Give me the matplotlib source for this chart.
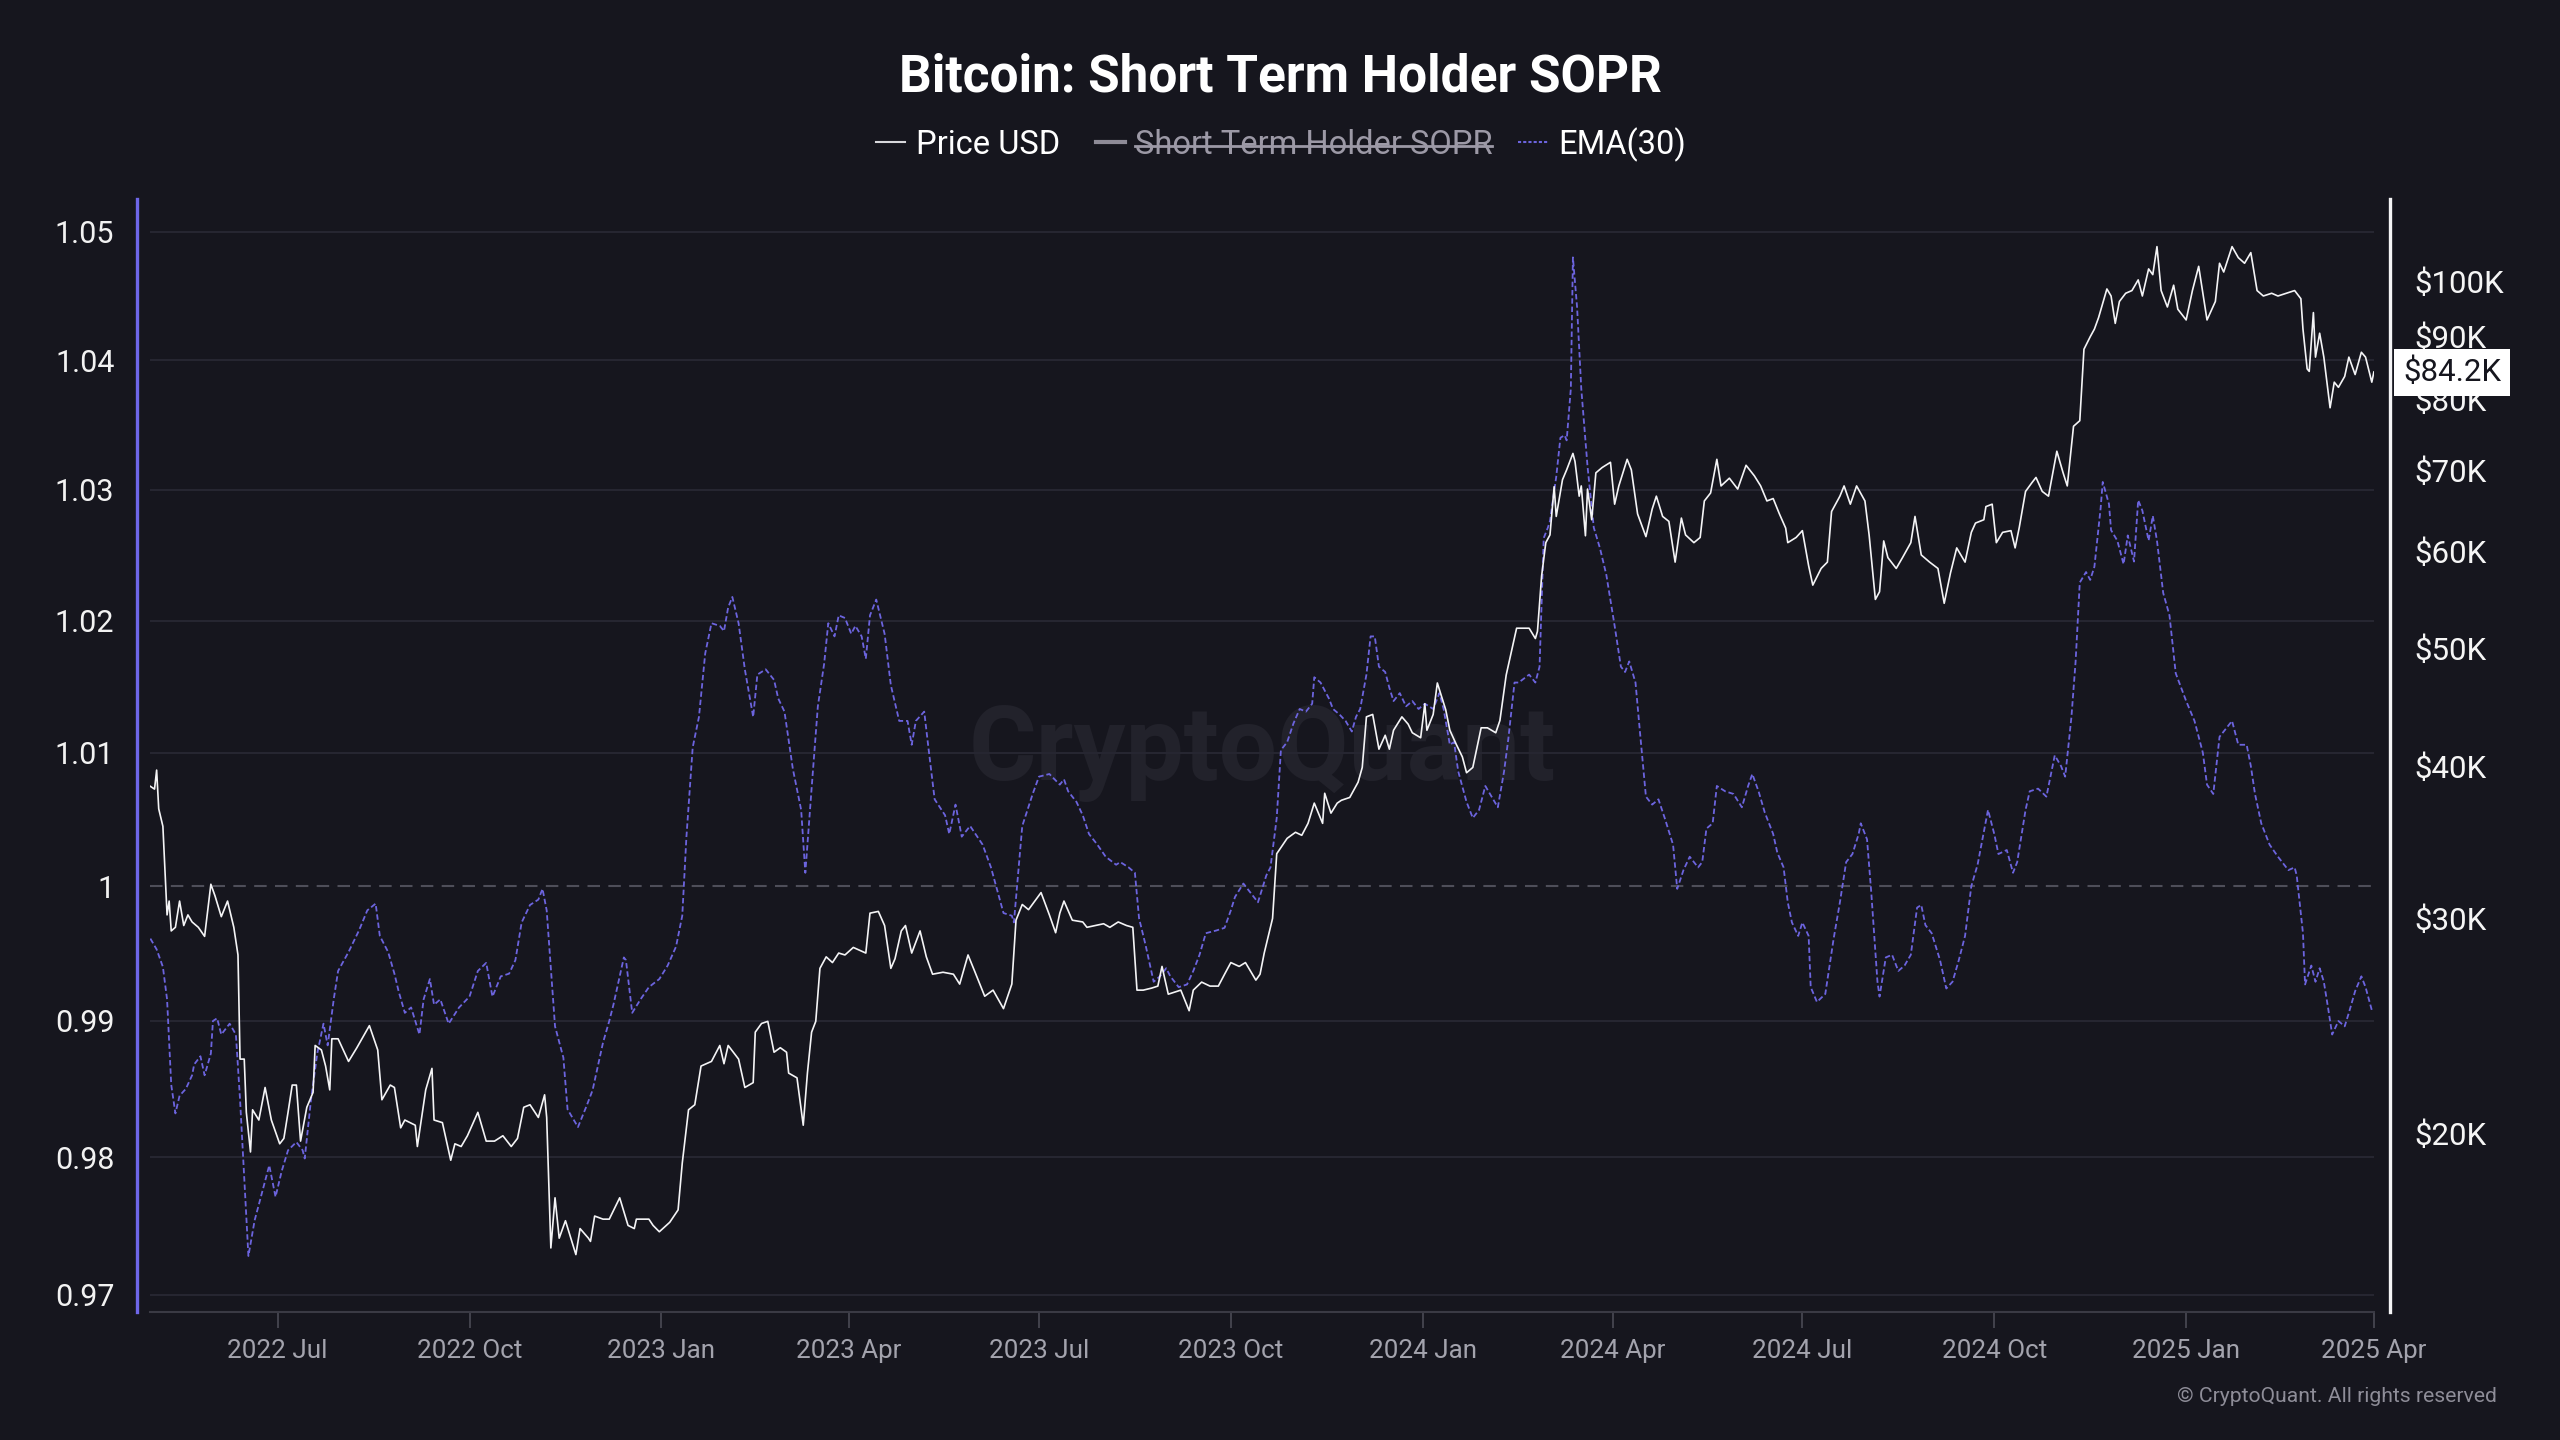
"""
Bitcoin: Short Term Holder SOPR (EMA 30) against BTC price, CryptoQuant style.
Values read off the reference chart.
"""

import pandas as pd
import matplotlib
matplotlib.use("Agg")
import matplotlib.pyplot as plt
import matplotlib.dates as mdates
from matplotlib.lines import Line2D
from matplotlib.ticker import FixedLocator, FuncFormatter, NullLocator, NullFormatter
from matplotlib import transforms

plt.rcParams["font.family"] = ["Roboto", "DejaVu Sans"]

# ─── Data ────────────────────────────────────────────────────────────────────
EMA_DATES = [
    "2022-05-01", "2022-05-04", "2022-05-07", "2022-05-09", "2022-05-11", "2022-05-13", "2022-05-15",
    "2022-05-18", "2022-05-21", "2022-05-22", "2022-05-25", "2022-05-27", "2022-05-30", "2022-05-31",
    "2022-06-02", "2022-06-04", "2022-06-08", "2022-06-11", "2022-06-13", "2022-06-17", "2022-06-20",
    "2022-06-24", "2022-06-27", "2022-06-30", "2022-07-03", "2022-07-06", "2022-07-10", "2022-07-13",
    "2022-07-14", "2022-07-17", "2022-07-20", "2022-07-23", "2022-07-25", "2022-07-28", "2022-07-30",
    "2022-08-04", "2022-08-09", "2022-08-13", "2022-08-17", "2022-08-19", "2022-08-23", "2022-08-26",
    "2022-08-28", "2022-08-31", "2022-09-03", "2022-09-07", "2022-09-09", "2022-09-12", "2022-09-14",
    "2022-09-17", "2022-09-21", "2022-09-26", "2022-10-01", "2022-10-05", "2022-10-09", "2022-10-12",
    "2022-10-16", "2022-10-20", "2022-10-23", "2022-10-26", "2022-10-30", "2022-11-03", "2022-11-05",
    "2022-11-07", "2022-11-11", "2022-11-15", "2022-11-17", "2022-11-22", "2022-11-26", "2022-11-29",
    "2022-12-04", "2022-12-07", "2022-12-09", "2022-12-14", "2022-12-15", "2022-12-18", "2022-12-22",
    "2022-12-26", "2022-12-31",
    "2023-01-04", "2023-01-08", "2023-01-11", "2023-01-13", "2023-01-16", "2023-01-19", "2023-01-22",
    "2023-01-25", "2023-01-29", "2023-01-31", "2023-02-02", "2023-02-04", "2023-02-07", "2023-02-10",
    "2023-02-14", "2023-02-16", "2023-02-20", "2023-02-24", "2023-02-26", "2023-03-01", "2023-03-05",
    "2023-03-09", "2023-03-11", "2023-03-14", "2023-03-17", "2023-03-20", "2023-03-22", "2023-03-25",
    "2023-03-27", "2023-03-30", "2023-04-02", "2023-04-04", "2023-04-07", "2023-04-09", "2023-04-11",
    "2023-04-14", "2023-04-18", "2023-04-21", "2023-04-25", "2023-04-29", "2023-05-01", "2023-05-03",
    "2023-05-07", "2023-05-09", "2023-05-12", "2023-05-17", "2023-05-19", "2023-05-22", "2023-05-25",
    "2023-05-29", "2023-06-04", "2023-06-08", "2023-06-14", "2023-06-18", "2023-06-19", "2023-06-23",
    "2023-06-28", "2023-07-01", "2023-07-06", "2023-07-11", "2023-07-13", "2023-07-15", "2023-07-19",
    "2023-07-22", "2023-07-25", "2023-07-29", "2023-08-02", "2023-08-07", "2023-08-09", "2023-08-13",
    "2023-08-16", "2023-08-18", "2023-08-21", "2023-08-25", "2023-08-28", "2023-08-31", "2023-09-02",
    "2023-09-06", "2023-09-10", "2023-09-13", "2023-09-16", "2023-09-19", "2023-09-24", "2023-09-28",
    "2023-10-01", "2023-10-03", "2023-10-07", "2023-10-10", "2023-10-14", "2023-10-16", "2023-10-18",
    "2023-10-20", "2023-10-23", "2023-10-25", "2023-10-28", "2023-10-31", "2023-11-03", "2023-11-06",
    "2023-11-09", "2023-11-10", "2023-11-13", "2023-11-17", "2023-11-19", "2023-11-22", "2023-11-25",
    "2023-11-28", "2023-11-30", "2023-12-02", "2023-12-05", "2023-12-07", "2023-12-09", "2023-12-11",
    "2023-12-14", "2023-12-16", "2023-12-18", "2023-12-21", "2023-12-24", "2023-12-27", "2023-12-30",
    "2024-01-02", "2024-01-06", "2024-01-09", "2024-01-11", "2024-01-14", "2024-01-16", "2024-01-18",
    "2024-01-22", "2024-01-25", "2024-01-28", "2024-01-31", "2024-02-03", "2024-02-06", "2024-02-09",
    "2024-02-11", "2024-02-14", "2024-02-16", "2024-02-21", "2024-02-24", "2024-02-26", "2024-02-28",
    "2024-03-01", "2024-03-02", "2024-03-05", "2024-03-07", "2024-03-09", "2024-03-10", "2024-03-12",
    "2024-03-13", "2024-03-15", "2024-03-17", "2024-03-20", "2024-03-23", "2024-03-26", "2024-03-29",
    "2024-04-02", "2024-04-05", "2024-04-07", "2024-04-09", "2024-04-12", "2024-04-14", "2024-04-17",
    "2024-04-20", "2024-04-23", "2024-04-26", "2024-04-30", "2024-05-02", "2024-05-05", "2024-05-08",
    "2024-05-12", "2024-05-14", "2024-05-16", "2024-05-19", "2024-05-21", "2024-05-25", "2024-05-29",
    "2024-06-02", "2024-06-05", "2024-06-07", "2024-06-10", "2024-06-13", "2024-06-17", "2024-06-19",
    "2024-06-22", "2024-06-24", "2024-06-26", "2024-06-29", "2024-07-01", "2024-07-04", "2024-07-05",
    "2024-07-08", "2024-07-12", "2024-07-16", "2024-07-19", "2024-07-22", "2024-07-25", "2024-07-28",
    "2024-07-29", "2024-08-01", "2024-08-03", "2024-08-06", "2024-08-07", "2024-08-10", "2024-08-13",
    "2024-08-16", "2024-08-19", "2024-08-22", "2024-08-25", "2024-08-27", "2024-08-29", "2024-09-01",
    "2024-09-05", "2024-09-08", "2024-09-11", "2024-09-14", "2024-09-17", "2024-09-20", "2024-09-23",
    "2024-09-28", "2024-10-01", "2024-10-03", "2024-10-07", "2024-10-10", "2024-10-12", "2024-10-16",
    "2024-10-18", "2024-10-22", "2024-10-26", "2024-10-30", "2024-11-02", "2024-11-04", "2024-11-07",
    "2024-11-09", "2024-11-11", "2024-11-14", "2024-11-16", "2024-11-18", "2024-11-21", "2024-11-22",
    "2024-11-25", "2024-11-26", "2024-11-29", "2024-12-02", "2024-12-04", "2024-12-07", "2024-12-09",
    "2024-12-11", "2024-12-14", "2024-12-16", "2024-12-18", "2024-12-21", "2024-12-24", "2024-12-27",
    "2025-01-01", "2025-01-05", "2025-01-09", "2025-01-11", "2025-01-14", "2025-01-17", "2025-01-20",
    "2025-01-23", "2025-01-26", "2025-01-30", "2025-02-01", "2025-02-03", "2025-02-06", "2025-02-10",
    "2025-02-14", "2025-02-19", "2025-02-22", "2025-02-23", "2025-02-26", "2025-02-27", "2025-03-02",
    "2025-03-04", "2025-03-06", "2025-03-08", "2025-03-10", "2025-03-12", "2025-03-15", "2025-03-18",
    "2025-03-20", "2025-03-23", "2025-03-26", "2025-03-28", "2025-03-31",
]
EMA_VALUES = [
    0.9961, 0.9953, 0.9940, 0.9916, 0.9853, 0.9832, 0.9845,
    0.9850, 0.9860, 0.9868, 0.9874, 0.9860, 0.9876, 0.9900,
    0.9902, 0.9890, 0.9898, 0.9890, 0.9842, 0.9728, 0.9754,
    0.9777, 0.9794, 0.9771, 0.9790, 0.9805, 0.9811, 0.9805,
    0.9799, 0.9842, 0.9876, 0.9898, 0.9882, 0.9917, 0.9937,
    0.9951, 0.9967, 0.9982, 0.9987, 0.9963, 0.9951, 0.9935,
    0.9922, 0.9906, 0.9910, 0.9890, 0.9916, 0.9931, 0.9912,
    0.9916, 0.9898, 0.9910, 0.9918, 0.9937, 0.9943, 0.9918,
    0.9933, 0.9935, 0.9945, 0.9973, 0.9986, 0.9990, 0.9998,
    0.9982, 0.9896, 0.9873, 0.9835, 0.9822, 0.9837, 0.9849,
    0.9884, 0.9900, 0.9912, 0.9947, 0.9945, 0.9906, 0.9916,
    0.9925, 0.9931,
    0.9941, 0.9955, 0.9978, 1.0037, 1.0104, 1.0127, 1.0175,
    1.0198, 1.0196, 1.0192, 1.0210, 1.0218, 1.0198, 1.0163,
    1.0127, 1.0159, 1.0163, 1.0155, 1.0141, 1.0131, 1.0088,
    1.0057, 1.0010, 1.0073, 1.0135, 1.0167, 1.0198, 1.0188,
    1.0204, 1.0202, 1.0190, 1.0196, 1.0188, 1.0171, 1.0204,
    1.0216, 1.0190, 1.0151, 1.0124, 1.0124, 1.0106, 1.0124,
    1.0131, 1.0104, 1.0065, 1.0053, 1.0039, 1.0061, 1.0037,
    1.0045, 1.0031, 1.0014, 0.9980, 0.9978, 0.9973, 1.0045,
    1.0069, 1.0082, 1.0084, 1.0076, 1.0080, 1.0071, 1.0063,
    1.0053, 1.0039, 1.0031, 1.0022, 1.0016, 1.0018, 1.0014,
    1.0010, 0.9976, 0.9957, 0.9929, 0.9933, 0.9939, 0.9933,
    0.9925, 0.9927, 0.9937, 0.9949, 0.9965, 0.9967, 0.9969,
    0.9982, 0.9992, 1.0002, 0.9996, 0.9988, 0.9998, 1.0008,
    1.0014, 1.0051, 1.0102, 1.0108, 1.0122, 1.0133, 1.0131,
    1.0137, 1.0157, 1.0153, 1.0141, 1.0133, 1.0129, 1.0124,
    1.0116, 1.0127, 1.0133, 1.0159, 1.0188, 1.0188, 1.0165,
    1.0161, 1.0149, 1.0139, 1.0145, 1.0135, 1.0139, 1.0133,
    1.0137, 1.0133, 1.0145, 1.0133, 1.0106, 1.0108, 1.0086,
    1.0063, 1.0051, 1.0057, 1.0075, 1.0067, 1.0059, 1.0086,
    1.0110, 1.0153, 1.0153, 1.0159, 1.0153, 1.0165, 1.0263,
    1.0271, 1.0276, 1.0310, 1.0340, 1.0342, 1.0338, 1.0378,
    1.0480, 1.0441, 1.0378, 1.0318, 1.0271, 1.0255, 1.0235,
    1.0196, 1.0165, 1.0161, 1.0169, 1.0153, 1.0118, 1.0067,
    1.0061, 1.0065, 1.0051, 1.0031, 0.9998, 1.0012, 1.0022,
    1.0014, 1.0018, 1.0043, 1.0047, 1.0075, 1.0071, 1.0069,
    1.0059, 1.0075, 1.0084, 1.0071, 1.0055, 1.0039, 1.0025,
    1.0014, 0.9988, 0.9973, 0.9963, 0.9973, 0.9963, 0.9925,
    0.9914, 0.9920, 0.9961, 0.9988, 1.0018, 1.0024, 1.0039,
    1.0047, 1.0035, 0.9996, 0.9929, 0.9918, 0.9947, 0.9949,
    0.9937, 0.9941, 0.9949, 0.9984, 0.9986, 0.9971, 0.9965,
    0.9945, 0.9924, 0.9929, 0.9945, 0.9963, 1.0000, 1.0016,
    1.0057, 1.0039, 1.0024, 1.0027, 1.0010, 1.0018, 1.0057,
    1.0071, 1.0073, 1.0067, 1.0098, 1.0090, 1.0082, 1.0127,
    1.0169, 1.0229, 1.0237, 1.0231, 1.0241, 1.0286, 1.0306,
    1.0289, 1.0269, 1.0261, 1.0243, 1.0265, 1.0245, 1.0292,
    1.0284, 1.0261, 1.0280, 1.0261, 1.0221, 1.0204, 1.0160,
    1.0139, 1.0124, 1.0100, 1.0076, 1.0069, 1.0112, 1.0118,
    1.0124, 1.0106, 1.0106, 1.0090, 1.0069, 1.0047, 1.0031,
    1.0022, 1.0012, 1.0014, 1.0008, 0.9965, 0.9927, 0.9941,
    0.9929, 0.9939, 0.9929, 0.9910, 0.9890, 0.9900, 0.9896,
    0.9906, 0.9922, 0.9933, 0.9925, 0.9908,
]

PRICE_DATES = [
    "2022-05-01", "2022-05-03", "2022-05-04", "2022-05-05", "2022-05-07", "2022-05-09", "2022-05-10",
    "2022-05-11", "2022-05-13", "2022-05-15", "2022-05-17", "2022-05-19", "2022-05-21", "2022-05-24",
    "2022-05-27", "2022-05-30", "2022-06-01", "2022-06-04", "2022-06-07", "2022-06-10", "2022-06-12",
    "2022-06-13", "2022-06-15", "2022-06-16", "2022-06-18", "2022-06-19", "2022-06-22", "2022-06-25",
    "2022-06-28", "2022-07-02", "2022-07-04", "2022-07-06", "2022-07-08", "2022-07-10", "2022-07-12",
    "2022-07-15", "2022-07-18", "2022-07-19", "2022-07-22", "2022-07-24", "2022-07-26", "2022-07-27",
    "2022-07-30", "2022-08-04", "2022-08-08", "2022-08-14", "2022-08-18", "2022-08-20", "2022-08-24",
    "2022-08-26", "2022-08-29", "2022-08-31", "2022-09-05", "2022-09-06", "2022-09-10", "2022-09-13",
    "2022-09-14", "2022-09-18", "2022-09-22", "2022-09-24", "2022-09-27", "2022-09-30", "2022-10-05",
    "2022-10-09", "2022-10-13", "2022-10-17", "2022-10-21", "2022-10-24", "2022-10-27", "2022-10-30",
    "2022-11-03", "2022-11-06", "2022-11-07", "2022-11-09", "2022-11-11", "2022-11-13", "2022-11-16",
    "2022-11-21", "2022-11-23", "2022-11-27", "2022-11-28", "2022-11-30", "2022-12-04", "2022-12-07",
    "2022-12-12", "2022-12-16", "2022-12-19", "2022-12-20", "2022-12-26", "2022-12-28", "2022-12-31",
    "2023-01-05", "2023-01-09", "2023-01-11", "2023-01-14", "2023-01-17", "2023-01-20", "2023-01-25",
    "2023-01-29", "2023-01-31", "2023-02-02", "2023-02-07", "2023-02-10", "2023-02-14", "2023-02-15",
    "2023-02-18", "2023-02-21", "2023-02-24", "2023-02-27", "2023-03-02", "2023-03-03", "2023-03-07",
    "2023-03-10", "2023-03-12", "2023-03-14", "2023-03-16", "2023-03-18", "2023-03-21", "2023-03-24",
    "2023-03-27", "2023-03-30", "2023-04-03", "2023-04-09", "2023-04-11", "2023-04-15", "2023-04-18",
    "2023-04-21", "2023-04-23", "2023-04-26", "2023-04-28", "2023-05-01", "2023-05-05", "2023-05-08",
    "2023-05-11", "2023-05-16", "2023-05-21", "2023-05-24", "2023-05-28", "2023-05-31", "2023-06-05",
    "2023-06-09", "2023-06-14", "2023-06-18", "2023-06-20", "2023-06-23", "2023-06-26", "2023-07-02",
    "2023-07-06", "2023-07-09", "2023-07-11", "2023-07-13", "2023-07-17", "2023-07-22", "2023-07-24",
    "2023-07-28", "2023-08-01", "2023-08-04", "2023-08-08", "2023-08-12", "2023-08-15", "2023-08-17",
    "2023-08-20", "2023-08-24", "2023-08-27", "2023-08-29", "2023-09-01", "2023-09-04", "2023-09-07",
    "2023-09-11", "2023-09-13", "2023-09-17", "2023-09-21", "2023-09-25", "2023-09-28", "2023-10-01",
    "2023-10-05", "2023-10-08", "2023-10-13", "2023-10-15", "2023-10-17", "2023-10-21", "2023-10-23",
    "2023-10-25", "2023-10-28", "2023-11-01", "2023-11-04", "2023-11-07", "2023-11-10", "2023-11-14",
    "2023-11-15", "2023-11-18", "2023-11-21", "2023-11-23", "2023-11-27", "2023-12-01", "2023-12-03",
    "2023-12-05", "2023-12-08", "2023-12-11", "2023-12-14", "2023-12-16", "2023-12-18", "2023-12-22",
    "2023-12-25", "2023-12-27", "2023-12-31",
    "2024-01-02", "2024-01-03", "2024-01-06", "2024-01-08", "2024-01-12", "2024-01-14", "2024-01-17",
    "2024-01-20", "2024-01-22", "2024-01-25", "2024-01-29", "2024-02-01", "2024-02-05", "2024-02-07",
    "2024-02-10", "2024-02-13", "2024-02-15", "2024-02-18", "2024-02-21", "2024-02-24", "2024-02-25",
    "2024-02-27", "2024-02-29", "2024-03-02", "2024-03-04", "2024-03-05", "2024-03-08", "2024-03-10",
    "2024-03-13", "2024-03-14", "2024-03-16", "2024-03-17", "2024-03-19", "2024-03-20", "2024-03-22",
    "2024-03-24", "2024-03-27", "2024-03-31", "2024-04-02", "2024-04-04", "2024-04-08", "2024-04-10",
    "2024-04-13", "2024-04-17", "2024-04-20", "2024-04-22", "2024-04-25", "2024-04-28", "2024-05-01",
    "2024-05-04", "2024-05-06", "2024-05-10", "2024-05-13", "2024-05-15", "2024-05-18", "2024-05-21",
    "2024-05-23", "2024-05-27", "2024-05-31", "2024-06-04", "2024-06-08", "2024-06-11", "2024-06-14",
    "2024-06-17", "2024-06-20", "2024-06-23", "2024-06-24", "2024-06-28", "2024-07-01", "2024-07-04",
    "2024-07-06", "2024-07-10", "2024-07-13", "2024-07-15", "2024-07-19", "2024-07-21", "2024-07-24",
    "2024-07-27", "2024-07-31", "2024-08-02", "2024-08-05", "2024-08-07", "2024-08-09", "2024-08-11",
    "2024-08-15", "2024-08-18", "2024-08-22", "2024-08-24", "2024-08-27", "2024-08-31", "2024-09-04",
    "2024-09-07", "2024-09-10", "2024-09-13", "2024-09-17", "2024-09-20", "2024-09-22", "2024-09-26",
    "2024-09-27", "2024-09-30", "2024-10-02", "2024-10-05", "2024-10-09", "2024-10-11", "2024-10-13",
    "2024-10-16", "2024-10-19", "2024-10-21", "2024-10-24", "2024-10-27", "2024-10-31", "2024-11-03",
    "2024-11-05", "2024-11-08", "2024-11-11", "2024-11-13", "2024-11-16", "2024-11-18", "2024-11-20",
    "2024-11-24", "2024-11-26", "2024-11-28", "2024-11-30", "2024-12-03", "2024-12-06", "2024-12-09",
    "2024-12-11", "2024-12-14", "2024-12-16", "2024-12-18", "2024-12-20", "2024-12-23", "2024-12-26",
    "2024-12-28",
    "2025-01-01", "2025-01-04", "2025-01-07", "2025-01-11", "2025-01-15", "2025-01-17", "2025-01-19",
    "2025-01-23", "2025-01-26", "2025-01-29", "2025-02-01", "2025-02-04", "2025-02-07", "2025-02-11",
    "2025-02-14", "2025-02-18", "2025-02-22", "2025-02-25", "2025-02-26", "2025-02-28", "2025-03-01",
    "2025-03-03", "2025-03-04", "2025-03-06", "2025-03-08", "2025-03-11", "2025-03-13", "2025-03-15",
    "2025-03-18", "2025-03-20", "2025-03-23", "2025-03-26", "2025-03-28", "2025-03-31", "2025-04-01",
]
PRICE_K = [
    38.5, 38.3, 39.7, 36.9, 35.7, 30.2, 31.0,
    29.3, 29.5, 31.0, 29.6, 30.2, 29.8, 29.5,
    29.0, 32.0, 31.3, 30.1, 31.0, 29.5, 28.0,
    23.0, 23.0, 20.8, 19.3, 20.9, 20.5, 21.8,
    20.5, 19.6, 19.8, 20.8, 21.9, 21.9, 19.7,
    21.0, 21.6, 23.6, 23.4, 22.7, 21.7, 23.9,
    23.9, 22.9, 23.5, 24.5, 23.4, 21.3, 21.9,
    21.8, 20.2, 20.5, 20.3, 19.5, 21.7, 22.6,
    20.5, 20.4, 19.0, 19.6, 19.5, 19.9, 20.8,
    19.7, 19.7, 19.9, 19.5, 19.8, 21.0, 21.1,
    20.6, 21.5, 20.6, 16.1, 17.7, 16.4, 16.95,
    15.9, 16.7, 16.4, 16.3, 17.1, 17.0, 17.0,
    17.7, 16.8, 16.7, 17.0, 17.0, 16.8, 16.6,
    16.9, 17.3, 18.9, 20.9, 21.1, 22.7, 22.9,
    23.6, 22.8, 23.6, 23.0, 21.8, 22.0, 24.2,
    24.6, 24.7, 23.3, 23.5, 23.3, 22.4, 22.2,
    20.3, 22.4, 24.2, 24.7, 27.3, 27.9, 27.6,
    28.1, 28.0, 28.4, 28.1, 30.3, 30.4, 29.6,
    27.3, 27.8, 29.3, 29.6, 28.1, 29.3, 27.9,
    27.0, 27.1, 27.0, 26.5, 28.0, 27.2, 25.9,
    26.2, 25.3, 26.5, 29.9, 30.8, 30.5, 31.5,
    30.2, 29.2, 30.3, 31.0, 29.9, 29.8, 29.5,
    29.6, 29.7, 29.5, 29.8, 29.6, 29.5, 26.2,
    26.2, 26.3, 26.4, 27.4, 26.0, 26.1, 26.2,
    25.2, 26.2, 26.6, 26.4, 26.4, 27.0, 27.6,
    27.4, 27.6, 26.7, 27.0, 28.1, 30.0, 33.9,
    34.3, 34.9, 35.3, 35.1, 35.9, 37.3, 35.9,
    38.0, 36.6, 37.3, 37.5, 37.7, 38.8, 39.9,
    43.9, 44.1, 41.3, 42.4, 41.3, 42.8, 43.9,
    43.3, 42.6, 42.2,
    45.0, 42.8, 44.1, 46.8, 44.5, 42.8, 41.7,
    40.7, 39.5, 39.9, 43.0, 43.0, 42.6, 43.6,
    47.5, 50.1, 51.9, 51.9, 51.9, 50.9, 51.6,
    57.3, 61.0, 61.9, 67.8, 64.1, 68.7, 70.0,
    72.2, 71.1, 66.6, 67.9, 61.8, 67.5, 63.7,
    69.6, 70.3, 71.0, 65.6, 67.9, 71.4, 70.0,
    64.4, 61.7, 65.0, 66.6, 64.1, 63.5, 58.8,
    63.9, 61.9, 61.0, 61.6, 66.0, 67.0, 71.4,
    67.9, 68.9, 67.5, 70.6, 69.2, 67.9, 66.0,
    66.3, 64.4, 62.7, 61.0, 61.6, 62.4, 58.4,
    56.3, 58.1, 58.8, 64.7, 66.6, 67.9, 65.6,
    67.9, 66.0, 61.9, 54.8, 55.6, 61.2, 59.3,
    58.1, 59.3, 61.0, 64.1, 59.6, 58.8, 58.1,
    54.4, 57.6, 60.4, 58.8, 62.2, 63.3, 63.7,
    65.3, 65.6, 61.0, 62.2, 62.4, 60.4, 62.8,
    67.2, 68.3, 69.0, 67.2, 66.6, 72.5, 69.6,
    67.9, 76.0, 76.8, 87.9, 90.0, 91.3, 93.3,
    98.5, 97.2, 92.3, 96.2, 97.7, 98.2, 100.2,
    97.2, 102.3, 101.2, 106.7, 98.2, 95.2, 99.2,
    94.8,
    92.9, 98.2, 102.8, 92.9, 96.2, 103.4, 101.7,
    106.7, 104.5, 103.4, 105.5, 98.2, 97.2, 97.7,
    97.2, 97.7, 98.2, 96.7, 91.3, 84.7, 84.3,
    94.2, 86.6, 90.6, 86.6, 78.7, 82.6, 81.8,
    83.5, 86.6, 83.8, 87.4, 86.6, 82.6, 84.2,
]

SOPR_TICKS = [0.97, 0.98, 0.99, 1.00, 1.01, 1.02, 1.03, 1.04, 1.05]
PRICE_TICKS_K = [20, 30, 40, 50, 60, 70, 80, 90, 100]
X_START, X_END = "2022-05-01", "2025-04-01"

TITLE = "Bitcoin: Short Term Holder SOPR"
LEGEND_LABELS = ["Price USD", "Short Term Holder SOPR", "EMA(30)"]

# ─── Style ───────────────────────────────────────────────────────────────────
BG = "#16161e"
COLOUR_PRICE = "#f4f4f6"
COLOUR_EMA = "#6c64de"
COLOUR_LEFT_SPINE = "#6e66e8"
COLOUR_GRID = "#262631"
COLOUR_ONE = "#4e4e59"
COLOUR_MUTED = "#9c99a6"
COLOUR_XLAB = "#a3a3ad"


def main():
    ema = pd.Series(EMA_VALUES, index=pd.to_datetime(EMA_DATES)).sort_index()
    price = pd.Series(PRICE_K, index=pd.to_datetime(PRICE_DATES)).sort_index()

    fig = plt.figure(figsize=(25.6, 14.4), dpi=100, facecolor=BG)
    ax = fig.add_axes([0.05874, 0.08900, 0.86856, 0.77268])
    ax.set_facecolor(BG)

    # ── left axis: SOPR EMA (log) ─────────────────────────────────────────
    ax.set_yscale("log")
    ax.set_ylim(0.96876, 1.05256)
    ax.set_xlim(pd.Timestamp(X_START), pd.Timestamp(X_END))
    ax.yaxis.set_major_locator(FixedLocator(SOPR_TICKS))
    ax.yaxis.set_major_formatter(FuncFormatter(lambda v, _: f"{round(v, 2):g}"))
    ax.yaxis.set_minor_locator(NullLocator())
    ax.yaxis.set_minor_formatter(NullFormatter())

    for v in SOPR_TICKS:
        if v == 1.0:
            ax.axhline(v, color=COLOUR_ONE, lw=1.5, ls=(0, (6, 4)), zorder=1)
        else:
            ax.axhline(v, color=COLOUR_GRID, lw=1.5, zorder=1)

    ax.text(0.5, 0.478, "CryptoQuant", transform=ax.transAxes, fontsize=74.5,
            fontweight="bold", color="#22222b", ha="center", va="baseline", zorder=0.5)

    ax.plot(ema.index, ema.values, color=COLOUR_EMA, lw=1.3, ls=(0, (3, 1.6)), zorder=3)

    ax.spines["top"].set_visible(False)
    ax.spines["right"].set_visible(False)
    ax.spines["left"].set_position(("outward", 9.4))
    ax.spines["left"].set_color(COLOUR_LEFT_SPINE)
    ax.spines["left"].set_linewidth(2.4)
    ax.spines["bottom"].set_color("#3a3a44")
    ax.spines["bottom"].set_linewidth(1.5)

    ax.xaxis.set_major_locator(mdates.MonthLocator(bymonth=[1, 4, 7, 10]))
    ax.xaxis.set_major_formatter(mdates.DateFormatter("%Y %b"))
    ax.tick_params(axis="x", length=11.5, width=1.2, color="#4a4a55", pad=8,
                   labelsize=18.7, labelcolor=COLOUR_XLAB)
    ax.tick_params(axis="y", length=0, pad=16.5, labelsize=22, labelcolor="#f2f2f2")

    # ── right axis: price (log) ───────────────────────────────────────────
    ax2 = ax.twinx()
    ax2.set_yscale("log")
    ax2.set_ylim(14.27, 116.7)
    ax2.yaxis.set_major_locator(FixedLocator(PRICE_TICKS_K))
    ax2.yaxis.set_major_formatter(FuncFormatter(lambda v, _: f"${v:.0f}K"))
    ax2.yaxis.set_minor_locator(NullLocator())
    ax2.yaxis.set_minor_formatter(NullFormatter())
    ax2.plot(price.index, price.values, color=COLOUR_PRICE, lw=1.2, zorder=4)

    for side in ["top", "left", "bottom"]:
        ax2.spines[side].set_visible(False)
    ax2.spines["right"].set_position(("outward", 11.7))
    ax2.spines["right"].set_color("#f4f4f6")
    ax2.spines["right"].set_linewidth(2.4)
    ax2.tick_params(axis="y", length=0, pad=17.6, labelsize=22.5, labelcolor="#f5f5f5")

    # last-price tag on the right axis
    tag_trans = transforms.offset_copy(
        transforms.blended_transform_factory(ax2.transAxes, ax2.transData),
        fig=fig, x=29, y=0, units="dots")
    ax2.text(1.0, price.values[-1], f"${price.values[-1]:.1f}K", transform=tag_trans,
             ha="left", va="center", fontsize=22.5, color=BG, zorder=6, clip_on=False,
             bbox=dict(boxstyle="square,pad=0.28", fc="white", ec="none"))

    # ── title, legend, footer ─────────────────────────────────────────────
    fig.text(0.5, 0.9363, TITLE, ha="center", va="baseline", fontsize=37,
             fontweight="bold", color="white")

    ly, lbase = 0.9015, 0.8931
    fig.add_artist(Line2D([0.3422, 0.3537], [ly, ly], transform=fig.transFigure,
                          color="#d8d8dc", lw=1.5))
    fig.text(0.3578, lbase, LEGEND_LABELS[0], fontsize=23.5, color="white", va="baseline")

    fig.add_artist(Line2D([0.4280, 0.4395], [ly, ly], transform=fig.transFigure,
                          color="#8e8b97", lw=3))
    t_sopr = fig.text(0.4433, lbase, LEGEND_LABELS[1], fontsize=23.5, color=COLOUR_MUTED,
                      va="baseline")

    fig.add_artist(Line2D([0.5929, 0.6048], [ly, ly], transform=fig.transFigure,
                          color=COLOUR_EMA, lw=1.5, ls=(0, (1.5, 1))))
    fig.text(0.6086, lbase, LEGEND_LABELS[2], fontsize=23.5, color="white", va="baseline")

    # strike through the hidden series label
    fig.canvas.draw()
    bb = t_sopr.get_window_extent().transformed(fig.transFigure.inverted())
    fig.add_artist(Line2D([bb.x0, bb.x1], [ly - 0.0028, ly - 0.0028],
                          transform=fig.transFigure, color=COLOUR_MUTED, lw=2))

    fig.text(0.9753, 0.030, "© CryptoQuant. All rights reserved", ha="right", va="center",
             fontsize=15.2, color="#8e8d98")

    fig.savefig("out.png", dpi=100, facecolor=BG)
    plt.close(fig)


if __name__ == "__main__":
    main()
